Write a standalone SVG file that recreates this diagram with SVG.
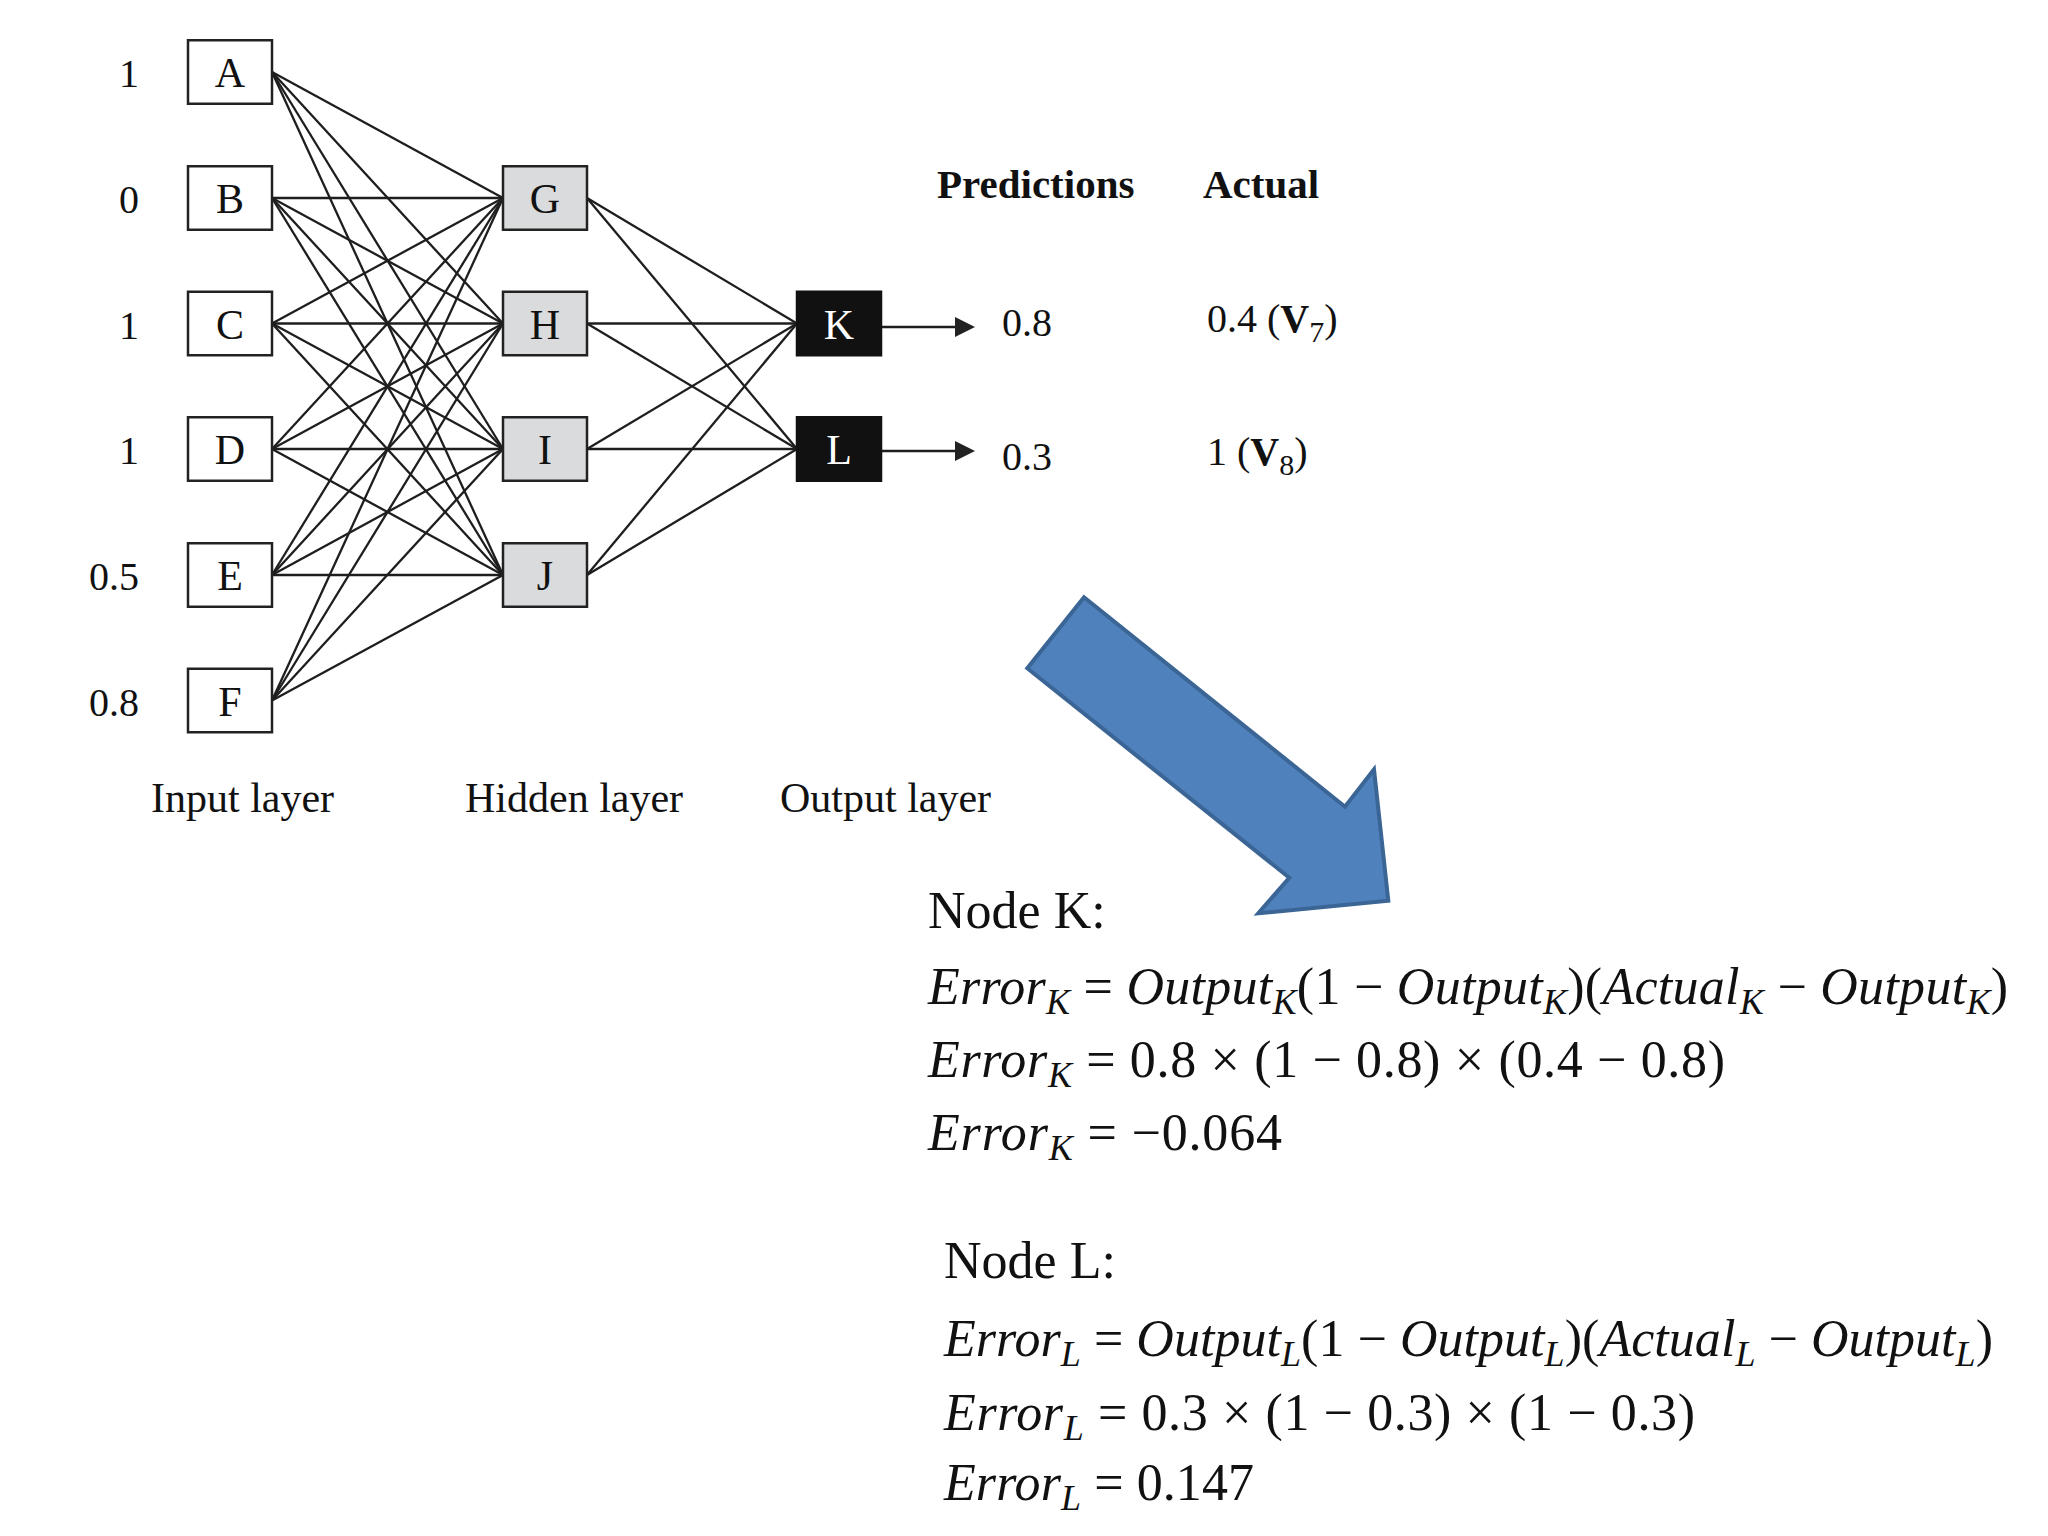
<svg xmlns="http://www.w3.org/2000/svg" width="2048" height="1536" viewBox="0 0 2048 1536">
<style>
text{font-family:"Liberation Serif","Times New Roman",serif;fill:#111}
.box{fill:#fff;stroke:#222;stroke-width:2.5}
.hid{fill:#dadbdc;stroke:#222;stroke-width:2.5}
.out{fill:#111;stroke:#111;stroke-width:2.5}
.lbl{font-size:42px;text-anchor:middle}
.wl{font-size:42px;text-anchor:middle;fill:#fff}
.val{font-size:40px;text-anchor:end}
.layer{font-size:42px}
.hdr{font-size:41px;font-weight:bold}
.num{font-size:40px}
.eq{font-size:52px}
.i{font-style:italic}
.sub{font-style:italic;font-size:36px}
.edges line{stroke:#1e1e1e;stroke-width:2.3}
.arr{stroke:#222;stroke-width:3;marker-end:url(#ah)}
</style>
<defs>
<marker id="ah" markerUnits="userSpaceOnUse" markerWidth="20" markerHeight="20" refX="0" refY="10" orient="auto">
<path d="M0,0 L20,10 L0,20 z" fill="#222"/>
</marker>
</defs>
<rect width="2048" height="1536" fill="#fff"/>
<g id="connectors" class="edges">
<line x1="272" y1="72" x2="503" y2="198"/><line x1="272" y1="72" x2="503" y2="323.5"/><line x1="272" y1="72" x2="503" y2="449"/><line x1="272" y1="72" x2="503" y2="575"/>
<line x1="272" y1="198" x2="503" y2="198"/><line x1="272" y1="198" x2="503" y2="323.5"/><line x1="272" y1="198" x2="503" y2="449"/><line x1="272" y1="198" x2="503" y2="575"/>
<line x1="272" y1="323.5" x2="503" y2="198"/><line x1="272" y1="323.5" x2="503" y2="323.5"/><line x1="272" y1="323.5" x2="503" y2="449"/><line x1="272" y1="323.5" x2="503" y2="575"/>
<line x1="272" y1="449" x2="503" y2="198"/><line x1="272" y1="449" x2="503" y2="323.5"/><line x1="272" y1="449" x2="503" y2="449"/><line x1="272" y1="449" x2="503" y2="575"/>
<line x1="272" y1="575" x2="503" y2="198"/><line x1="272" y1="575" x2="503" y2="323.5"/><line x1="272" y1="575" x2="503" y2="449"/><line x1="272" y1="575" x2="503" y2="575"/>
<line x1="272" y1="700.5" x2="503" y2="198"/><line x1="272" y1="700.5" x2="503" y2="323.5"/><line x1="272" y1="700.5" x2="503" y2="449"/><line x1="272" y1="700.5" x2="503" y2="575"/>
<line x1="587" y1="198" x2="797" y2="323.5"/><line x1="587" y1="198" x2="797" y2="449"/>
<line x1="587" y1="323.5" x2="797" y2="323.5"/><line x1="587" y1="323.5" x2="797" y2="449"/>
<line x1="587" y1="449" x2="797" y2="323.5"/><line x1="587" y1="449" x2="797" y2="449"/>
<line x1="587" y1="575" x2="797" y2="323.5"/><line x1="587" y1="575" x2="797" y2="449"/>
<line class="arr" x1="881" y1="327" x2="955" y2="327"/>
<line class="arr" x1="881" y1="451" x2="955" y2="451"/>
</g>
<g id="node-A"><rect class="box" x="188" y="40.25" width="84" height="63.5"/><text class="lbl" x="230" y="87">A</text><text class="val" x="139" y="87">1</text></g>
<g id="node-B"><rect class="box" x="188" y="166.25" width="84" height="63.5"/><text class="lbl" x="230" y="213">B</text><text class="val" x="139" y="213">0</text></g>
<g id="node-C"><rect class="box" x="188" y="291.75" width="84" height="63.5"/><text class="lbl" x="230" y="338.5">C</text><text class="val" x="139" y="338.5">1</text></g>
<g id="node-D"><rect class="box" x="188" y="417.25" width="84" height="63.5"/><text class="lbl" x="230" y="464">D</text><text class="val" x="139" y="464">1</text></g>
<g id="node-E"><rect class="box" x="188" y="543.25" width="84" height="63.5"/><text class="lbl" x="230" y="590">E</text><text class="val" x="139" y="590">0.5</text></g>
<g id="node-F"><rect class="box" x="188" y="668.75" width="84" height="63.5"/><text class="lbl" x="230" y="715.5">F</text><text class="val" x="139" y="715.5">0.8</text></g>
<g id="node-G"><rect class="hid" x="503" y="166.25" width="84" height="63.5"/><text class="lbl" x="545" y="213">G</text></g>
<g id="node-H"><rect class="hid" x="503" y="291.75" width="84" height="63.5"/><text class="lbl" x="545" y="338.5">H</text></g>
<g id="node-I"><rect class="hid" x="503" y="417.25" width="84" height="63.5"/><text class="lbl" x="545" y="464">I</text></g>
<g id="node-J"><rect class="hid" x="503" y="543.25" width="84" height="63.5"/><text class="lbl" x="545" y="590">J</text></g>
<g id="node-K"><rect class="out" x="797" y="291.75" width="84" height="63.5"/><text class="wl" x="839" y="338.5">K</text></g>
<g id="node-L"><rect class="out" x="797" y="417.25" width="84" height="63.5"/><text class="wl" x="839" y="464">L</text></g>
<g id="layer-labels">
<text class="layer" x="151" y="812">Input layer</text>
<text class="layer" x="465" y="812">Hidden layer</text>
<text class="layer" x="780" y="812">Output layer</text>
</g>
<g id="results">
<text class="hdr" x="937" y="198">Predictions</text>
<text class="hdr" x="1203" y="198">Actual</text>
<text class="num" x="1002" y="336">0.8</text>
<text class="num" x="1002" y="470">0.3</text>
<text class="num" x="1207" y="332">0.4 (<tspan font-weight="bold">V</tspan><tspan font-size="30" dy="10">7</tspan><tspan dy="-10">)</tspan></text>
<text class="num" x="1207" y="465">1 (<tspan font-weight="bold">V</tspan><tspan font-size="30" dy="10">8</tspan><tspan dy="-10">)</tspan></text>
</g>
<g id="big-arrow">
<polygon points="1084,597.3 1345,806.7 1374,769.3 1388.3,900.7 1258.3,913.3 1289.3,877.7 1027.3,668.3" fill="#4f81bd" stroke="#3b6595" stroke-width="4" stroke-linejoin="miter"/>
</g>
<g id="node-K-equations">
<text class="eq" x="928" y="928">Node  K:</text>
<text class="eq" x="928" y="1004" textLength="1080"><tspan class="i">Error</tspan><tspan class="sub" dy="10">K</tspan><tspan dy="-10"> = </tspan><tspan class="i">Output</tspan><tspan class="sub" dy="10">K</tspan><tspan dy="-10">(1 − </tspan><tspan class="i">Output</tspan><tspan class="sub" dy="10">K</tspan><tspan dy="-10">)(</tspan><tspan class="i">Actual</tspan><tspan class="sub" dy="10">K</tspan><tspan dy="-10"> − </tspan><tspan class="i">Output</tspan><tspan class="sub" dy="10">K</tspan><tspan dy="-10">)</tspan></text>
<text class="eq" x="928" y="1077" textLength="797"><tspan class="i">Error</tspan><tspan class="sub" dy="10">K</tspan><tspan dy="-10"> = 0.8 × (1 − 0.8) × (0.4 − 0.8)</tspan></text>
<text class="eq" x="928" y="1150" textLength="354"><tspan class="i">Error</tspan><tspan class="sub" dy="10">K</tspan><tspan dy="-10"> = −0.064</tspan></text>
</g>
<g id="node-L-equations">
<text class="eq" x="944" y="1278">Node L:</text>
<text class="eq" x="944" y="1356" textLength="1049"><tspan class="i">Error</tspan><tspan class="sub" dy="10">L</tspan><tspan dy="-10"> = </tspan><tspan class="i">Output</tspan><tspan class="sub" dy="10">L</tspan><tspan dy="-10">(1 − </tspan><tspan class="i">Output</tspan><tspan class="sub" dy="10">L</tspan><tspan dy="-10">)(</tspan><tspan class="i">Actual</tspan><tspan class="sub" dy="10">L</tspan><tspan dy="-10"> − </tspan><tspan class="i">Output</tspan><tspan class="sub" dy="10">L</tspan><tspan dy="-10">)</tspan></text>
<text class="eq" x="944" y="1430" textLength="751"><tspan class="i">Error</tspan><tspan class="sub" dy="10">L</tspan><tspan dy="-10"> = 0.3 × (1 − 0.3) × (1 − 0.3)</tspan></text>
<text class="eq" x="944" y="1500" textLength="310"><tspan class="i">Error</tspan><tspan class="sub" dy="10">L</tspan><tspan dy="-10"> = 0.147</tspan></text>
</g>
</svg>
